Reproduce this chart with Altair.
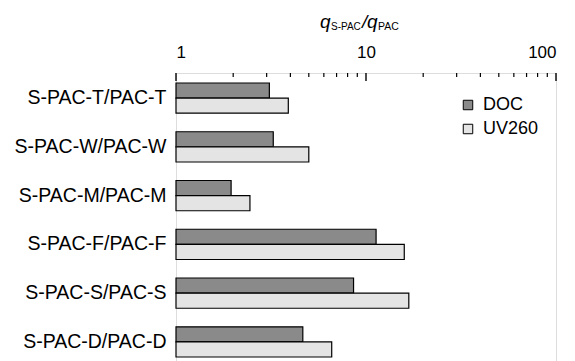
import altair as alt
import pandas as pd

categories = ["S-PAC-T/PAC-T", "S-PAC-W/PAC-W", "S-PAC-M/PAC-M",
              "S-PAC-F/PAC-F", "S-PAC-S/PAC-S", "S-PAC-D/PAC-D"]
doc_values = [3.1, 3.25, 1.95, 11.3, 8.6, 4.65]
uv260_values = [3.9, 5.0, 2.45, 15.9, 16.8, 6.6]
series = ["DOC", "UV260"]
major_ticks = [1, 10, 100]
minor_ticks = [2, 3, 4, 5, 6, 7, 8, 9, 20, 30, 40, 50, 60, 70, 80, 90]

rows = []
for c, d, u in zip(categories, doc_values, uv260_values):
    rows.append({"cat": c, "series": "DOC", "value": d, "base": 1})
    rows.append({"cat": c, "series": "UV260", "value": u, "base": 1})
df = pd.DataFrame(rows)

FONT = "Liberation Sans"
xscale = alt.Scale(type="log", domain=[1, 100])
xaxis = alt.Axis(orient="top", values=major_ticks, format="d",
                 title=None, labelFontSize=17, labelFont=FONT,
                 labelColor="black", ticks=False, domain=False,
                 grid=False, labelPadding=12)

bars = alt.Chart(df).mark_bar(stroke="black", strokeWidth=1.2).encode(
    y=alt.Y("cat:N", sort=categories,
            scale=alt.Scale(paddingInner=0.38, paddingOuter=0.205),
            axis=alt.Axis(title=None, labelFontSize=19.5, labelFont=FONT,
                          labelColor="black", ticks=False, domain=False,
                          labelPadding=10, labelLimit=300)),
    yOffset=alt.YOffset("series:N", sort=series),
    x=alt.X("value:Q", scale=xscale, axis=xaxis),
    x2="base:Q",
    fill=alt.Fill("series:N", sort=series,
                  scale=alt.Scale(domain=series, range=["#8a8a8a", "#e4e4e4"]),
                  legend=alt.Legend(title=None, orient="none", legendX=283,
                                    legendY=23, symbolType="square",
                                    symbolSize=90, symbolStrokeColor="black",
                                    symbolStrokeWidth=1, labelFontSize=18,
                                    labelFont=FONT, labelColor="black",
                                    labelOffset=6, rowPadding=6, padding=0)),
)

minor_df = pd.DataFrame({"v": minor_ticks})
major_df = pd.DataFrame({"v": major_ticks})
minor = alt.Chart(minor_df).mark_rule(color="black", strokeWidth=1.2).encode(
    x=alt.X("v:Q", scale=xscale, axis=xaxis),
    y=alt.value(0), y2=alt.value(4))
major = alt.Chart(major_df).mark_rule(color="black", strokeWidth=1.4).encode(
    x=alt.X("v:Q", scale=xscale, axis=xaxis),
    y=alt.value(0), y2=alt.value(8))

one = pd.DataFrame({"a": [0]})
def piece(txt, x, y, size, italic=False):
    kw = dict(align="left", baseline="alphabetic", fontSize=size, font=FONT,
              color="black")
    if italic:
        kw["fontStyle"] = "italic"
    return alt.Chart(one).mark_text(**kw).encode(
        x=alt.value(x), y=alt.value(y), text=alt.value(txt))

title_layers = [
    piece("q", 144, -45, 19, True),
    piece("S-PAC", 155, -43, 10),
    piece("/", 186, -45, 19, True),
    piece("q", 191, -45, 19, True),
    piece("PAC", 202, -43, 10.5),
]

chart = alt.layer(bars, minor, major, *title_layers).properties(
    width=380, height=294,
    autosize=alt.AutoSizeParams(type="none"),
    padding={"left": 168, "top": 65, "right": 11, "bottom": 0},
).configure_view(stroke="black", strokeWidth=1.8).configure(background="white")

chart.save("out.html", embed_options={"renderer": "svg", "actions": False})
